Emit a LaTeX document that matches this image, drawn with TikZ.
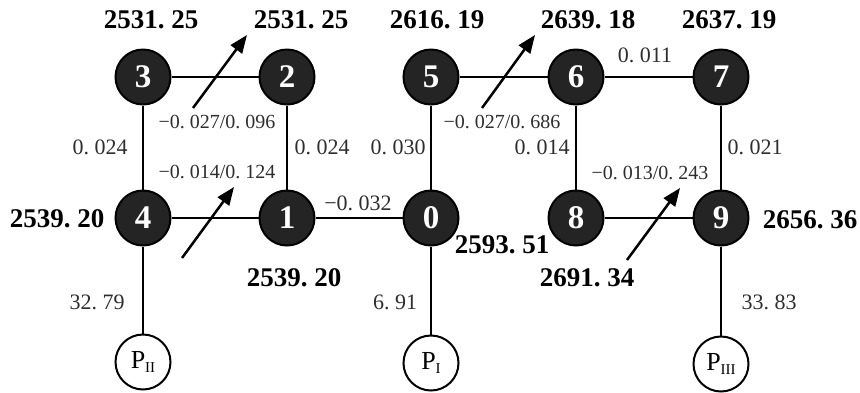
\documentclass[tikz,border=0pt]{standalone}
\usepackage{fontspec}
\setmainfont{Liberation Serif}
\frenchspacing
\usetikzlibrary{arrows.meta}
\newcommand{\mneg}{\char"2212\relax}
\newcommand{\rsub}[1]{\raisebox{-0.4ex}{\fontsize{15}{15}\selectfont #1}}
\begin{document}
\begin{tikzpicture}[x=1pt,y=-1pt,
  bus/.style={circle,draw=black,fill=black!86,line width=2pt,minimum size=55pt,
    inner sep=0pt,text=white,font=\fontsize{33}{33}\selectfont\bfseries},
  src/.style={circle,draw=black,fill=white,line width=2pt,minimum size=55pt,
    inner sep=0pt,font=\fontsize{26}{26}\selectfont},
  link/.style={line width=2pt},
  volt/.style={font=\fontsize{27}{27}\selectfont\bfseries,inner sep=0pt},
  val/.style={font=\fontsize{22}{22}\selectfont,inner sep=0pt,text=black!82},
  pair/.style={val,font=\fontsize{20}{20}\selectfont},
  flow/.style={line width=2.5pt,-{Triangle[length=18pt,width=14pt]}}
]
\useasboundingbox (0,0) rectangle (860,392);

% buses
\node[bus] (n3) at (143,77)  {3};
\node[bus] (n2) at (287,77)  {2};
\node[bus] (n5) at (431,77)  {5};
\node[bus] (n6) at (576,77)  {6};
\node[bus] (n7) at (721,77)  {7};
\node[bus] (n4) at (143,218) {4};
\node[bus] (n1) at (287,218) {1};
\node[bus] (n0) at (431,218) {0};
\node[bus] (n8) at (576,218) {8};
\node[bus] (n9) at (721,218) {9};

% sources
\node[src] (p2) at (143,362) {P\rsub{II}};
\node[src] (p1) at (431,363) {P\rsub{I}};
\node[src] (p3) at (721,364) {P\rsub{III}};

% lines
\draw[link] (n3) -- (n2);
\draw[link] (n3) -- (n4);
\draw[link] (n2) -- (n1);
\draw[link] (n4) -- (n1);
\draw[link] (n1) -- (n0);
\draw[link] (n5) -- (n0);
\draw[link] (n5) -- (n6);
\draw[link] (n6) -- (n7);
\draw[link] (n6) -- (n8);
\draw[link] (n7) -- (n9);
\draw[link] (n8) -- (n9);
\draw[link] (n4) -- (p2);
\draw[link] (n0) -- (p1);
\draw[link] (n9) -- (p3);

% flow arrows
\coordinate (a1s) at (193,108); \coordinate (a1e) at (247,35);
\coordinate (a2s) at (182,258); \coordinate (a2e) at (234,187);
\coordinate (a3s) at (482,108); \coordinate (a3e) at (535,35);
\coordinate (a4s) at (627,260); \coordinate (a4e) at (680,188);
\draw[flow] (a1s) -- (a1e);
\draw[flow] (a2s) -- (a2e);
\draw[flow] (a3s) -- (a3e);
\draw[flow] (a4s) -- (a4e);

% voltages
\node[volt] (v3) at (151,20)  {2531. 25};
\node[volt] (v2) at (301,20)  {2531. 25};
\node[volt] (v5) at (437,20)  {2616. 19};
\node[volt] (v6) at (588,20)  {2639. 18};
\node[volt] (v7) at (729,20)  {2637. 19};
\node[volt] (v4) at (57,219)  {2539. 20};
\node[volt] (v1) at (294,278) {2539. 20};
\node[volt] (v0) at (502,245) {2593. 51};
\node[volt] (v8) at (587,278) {2691. 34};
\node[volt] (v9) at (810,220) {2656. 36};

% line values
\node[pair] (c32) at (217,122) {\mneg0. 027/0. 096};
\node[val]  (c34) at (100,147) {0. 024};
\node[pair] (c41) at (217,172) {\mneg0. 014/0. 124};
\node[val]  (c21) at (322,147) {0. 024};
\node[val]  (c50) at (398,147) {0. 030};
\node[val]  (c10) at (358,203) {\mneg0. 032};
\node[pair] (c56) at (502,122) {\mneg0. 027/0. 686};
\node[val]  (c67) at (645,55)  {0. 011};
\node[val]  (c68) at (542,147) {0. 014};
\node[val]  (c79) at (755,147) {0. 021};
\node[pair] (c89) at (650,173) {\mneg0. 013/0. 243};
\node[val]  (g2)  at (97,302)  {32. 79};
\node[val]  (g1)  at (395,302) {6. 91};
\node[val]  (g3)  at (769,302) {33. 83};
\end{tikzpicture}
\end{document}
